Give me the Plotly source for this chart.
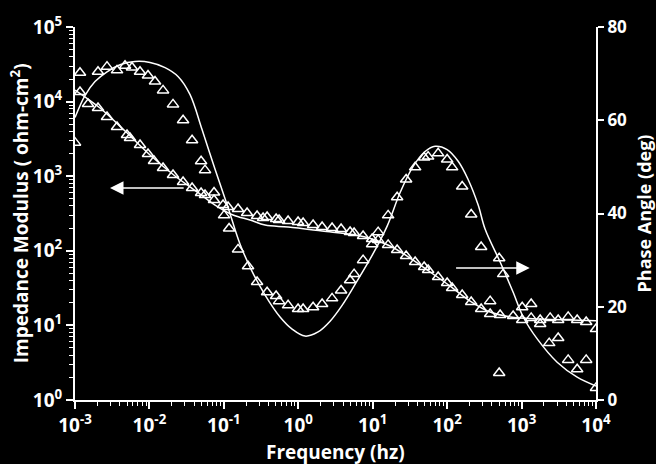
import plotly.graph_objects as go

# ---- Impedance modulus data (ohm-cm^2) ----
mag_freq = [0.001167, 0.001496, 0.002038, 0.002692, 0.003670, 0.005000, 0.005483, 0.007476,
            0.009572, 0.01153, 0.01524, 0.02075, 0.02831, 0.03741, 0.04943, 0.05585, 0.07379,
            0.09750, 0.1138, 0.1552, 0.2051, 0.2793, 0.3365, 0.3811, 0.5035, 0.5521, 0.7295,
            0.9931, 1.161, 1.581, 2.089, 2.843, 3.758, 4.966, 5.623, 7.425, 9.817, 11.83,
            16.11, 21.29, 28.11, 37.15, 49.10, 55.55, 75.68, 100.0, 116.7, 159.2, 210.4,
            286.4, 378.4, 515.2, 770.9, 1019, 1346, 1778, 2421, 3105, 4227, 5585, 7380, 10000]
mag_vals = [13450, 9290, 8204, 6220, 4567, 3566, 3250, 2620,
            1985, 1599, 1288, 1038, 836, 695, 596, 560, 480,
            411, 386, 363, 321, 293, 275, 284, 267, 259, 251,
            243, 236, 222, 208, 202, 196, 179, 173, 158, 144, 140,
            120, 102.5, 85.2, 70.8, 60.7, 55.3, 44.6, 37.0, 31.7, 25.6, 20.6,
            16.6, 14.2, 13.8, 13.4, 11.8, 12.6, 11.8, 12.6, 11.8, 13.0, 11.8, 11.1, 8.95]

# ---- Impedance modulus fit ----
magfit_freq = [0.001, 0.002168, 0.004699, 0.01019, 0.02208, 0.04786, 0.07614, 0.1330, 0.2249,
               0.3581, 0.7295, 2.089, 5.797, 9.817, 17.14, 31.84, 59.11, 109.6, 203.7, 378.4,
               703.1, 1778, 4498, 10000]
magfit_vals = [14290, 8204, 4036, 1923, 1006, 577, 411, 302, 258.5,
               221.5, 208, 184, 162.6, 143.9, 115.9, 80.0, 52.0, 33.7, 21.2, 15.1,
               13.0, 12.2, 11.8, 11.5]

# ---- Phase angle data (deg) ----
ph_freq = [0.001, 0.001167, 0.002038, 0.002692, 0.003670, 0.004699, 0.005834, 0.007476,
           0.009572, 0.01189, 0.01524, 0.02075, 0.02831, 0.03741, 0.04943, 0.05585, 0.07379,
           0.1007, 0.1175, 0.1552, 0.2113, 0.2793, 0.3811, 0.5035, 0.5521, 0.7295, 0.9931,
           1.161, 1.581, 2.089, 2.843, 3.758, 4.966, 5.623, 7.425, 9.817, 11.83, 16.11,
           21.29, 28.11, 37.15, 49.10, 55.55, 75.68, 100.0, 116.7, 159.2, 210.4, 286.4,
           378.4, 500.0, 500.0, 566.2, 1019, 1346, 1778, 2350, 3105, 4227, 5585, 7380, 10000]
ph_vals = [55.2, 70.2, 70.4, 71.5, 70.7, 71.7, 71.3, 70.4,
           69.6, 68.3, 66.4, 63.4, 60.0, 55.7, 51.2, 49.3, 44.5,
           39.6, 36.8, 32.3, 28.7, 25.3, 23.1, 22.3, 21.2, 20.3, 19.5,
           19.5, 19.9, 20.6, 21.8, 23.5, 25.7, 27.0, 30.0, 33.4, 36.0, 39.6,
           43.5, 47.3, 49.9, 52.0, 52.2, 52.9, 51.6, 49.9, 45.8, 39.8, 32.8,
           21.2, 30.4, 5.8, 27.0, 19.9, 20.6, 16.3, 12.2, 13.3, 8.6, 6.6, 8.6, 2.6]

# ---- Phase angle fit ----
phfit_freq = [0.001, 0.001361, 0.001858, 0.002692, 0.004027, 0.006397, 0.01019, 0.01622,
              0.02421, 0.03515, 0.05093, 0.07614, 0.1138, 0.1652, 0.2393, 0.3581, 0.5689,
              0.8260, 1.233, 1.845, 2.675, 3.878, 5.797, 9.817, 15.63, 23.35, 34.91, 50.58,
              69.02, 100.0, 140.6, 191.4, 261.2, 324.3, 515.2, 770.9, 1052, 1622, 3006,
              5585, 10000]
phfit_vals = [60.6, 65.3, 68.3, 70.4, 71.9, 72.6, 72.4, 71.3,
              69.4, 65.5, 58.0, 49.5, 41.3, 33.4, 27.6, 22.5, 17.8,
              15.2, 13.7, 14.6, 16.9, 20.3, 24.8, 31.0, 37.3, 44.5, 50.1, 53.3,
              54.4, 53.7, 51.2, 47.3, 41.8, 36.6, 29.6, 23.1, 17.8, 13.1, 8.1,
              4.9, 3.0]

# ---- Axis ticks ----
x_exps = [-3, -2, -1, 0, 1, 2, 3, 4]
y_exps = [0, 1, 2, 3, 4, 5]
phase_ticks = [0, 20, 40, 60, 80]

WHITE = "white"
FONT = "Open Sans"

def pow_label(e):
    return "10<sup>%d</sup>" % e

def minor_vals(exps):
    return [m * 10.0 ** e for e in exps[:-1] for m in range(2, 10)]

fig = go.Figure()
fig.add_trace(go.Scatter(x=magfit_freq, y=magfit_vals, mode="lines",
                         line=dict(color=WHITE, width=1.5, shape="spline"), yaxis="y"))
fig.add_trace(go.Scatter(x=phfit_freq, y=phfit_vals, mode="lines",
                         line=dict(color=WHITE, width=1.5, shape="spline"), yaxis="y2"))
fig.add_trace(go.Scatter(x=mag_freq, y=mag_vals, mode="markers",
                         marker=dict(symbol="triangle-up-open", size=10, color=WHITE,
                                     line=dict(width=1.5, color=WHITE)), yaxis="y"))
fig.add_trace(go.Scatter(x=ph_freq, y=ph_vals, mode="markers",
                         marker=dict(symbol="triangle-up-open", size=10, color=WHITE,
                                     line=dict(width=1.5, color=WHITE)), yaxis="y2"))

tickfont = dict(size=19, family=FONT, color=WHITE, weight="bold")
titlefont = dict(size=19, family=FONT, color=WHITE, weight="bold")

fig.update_layout(
    width=656, height=464,
    paper_bgcolor="black", plot_bgcolor="black",
    margin=dict(l=75, r=60, t=27, b=64),
    showlegend=False,
    font=dict(family=FONT, color=WHITE),
    xaxis=dict(type="log", range=[-3, 4], tickmode="array",
               tickvals=[10.0 ** e for e in x_exps], ticktext=[pow_label(e) for e in x_exps],
               showline=True, linecolor=WHITE, linewidth=2,
               ticks="outside", ticklen=7, tickwidth=1.5, tickcolor=WHITE,
               minor=dict(ticks="outside", ticklen=4, tickwidth=1.2, tickcolor=WHITE,
                          tickvals=minor_vals(x_exps)),
               showgrid=False, zeroline=False, automargin=False,
               tickfont=tickfont),
    yaxis=dict(type="log", range=[0, 5], tickmode="array",
               tickvals=[10.0 ** e for e in y_exps], ticktext=[pow_label(e) for e in y_exps],
               showline=True, linecolor=WHITE, linewidth=2,
               ticks="outside", ticklen=7, tickwidth=1.5, tickcolor=WHITE,
               minor=dict(ticks="outside", ticklen=4, tickwidth=1.2, tickcolor=WHITE,
                          tickvals=minor_vals(y_exps)),
               showgrid=False, zeroline=False, automargin=False,
               tickfont=tickfont),
    yaxis2=dict(overlaying="y", side="right", range=[0, 80], tickmode="array",
                tickvals=phase_ticks, showline=True, linecolor=WHITE, linewidth=2,
                ticks="outside", ticklen=6, tickwidth=1.5, tickcolor=WHITE,
                showgrid=False, zeroline=False, automargin=False,
                tickfont=dict(size=17, family=FONT, color=WHITE, weight="bold")),
)

# axis titles
fig.add_annotation(text="Frequency (hz)", xref="paper", yref="paper", x=0.5, y=-0.139,
                   xanchor="center", yanchor="middle", showarrow=False, font=titlefont)
fig.add_annotation(text="Impedance Modulus ( ohm-cm<sup>2</sup>)", xref="paper", yref="paper",
                   x=-0.106, y=0.5, textangle=-90, xanchor="center", yanchor="middle",
                   showarrow=False, font=titlefont)
fig.add_annotation(text="Phase Angle (deg)", xref="paper", yref="paper",
                   x=1.092, y=0.5, textangle=-90, xanchor="center", yanchor="middle",
                   showarrow=False, font=dict(size=18, family=FONT, color=WHITE, weight="bold"))

# direction arrows
fig.add_annotation(x=-2.53, y=2.842, xref="x", yref="y", ax=-1.52, ay=2.842,
                   axref="x", ayref="y", text="", showarrow=True, arrowhead=2,
                   arrowsize=1.8, arrowwidth=1.5, arrowcolor=WHITE)
fig.add_annotation(x=3.11, y=28.3, xref="x", yref="y2", ax=2.10, ay=28.3,
                   axref="x", ayref="y2", text="", showarrow=True, arrowhead=2,
                   arrowsize=1.8, arrowwidth=1.5, arrowcolor=WHITE)

fig.write_html("out.html", config={"displayModeBar": False},
               post_script="document.body.style.margin='0';document.body.style.background='black';")
